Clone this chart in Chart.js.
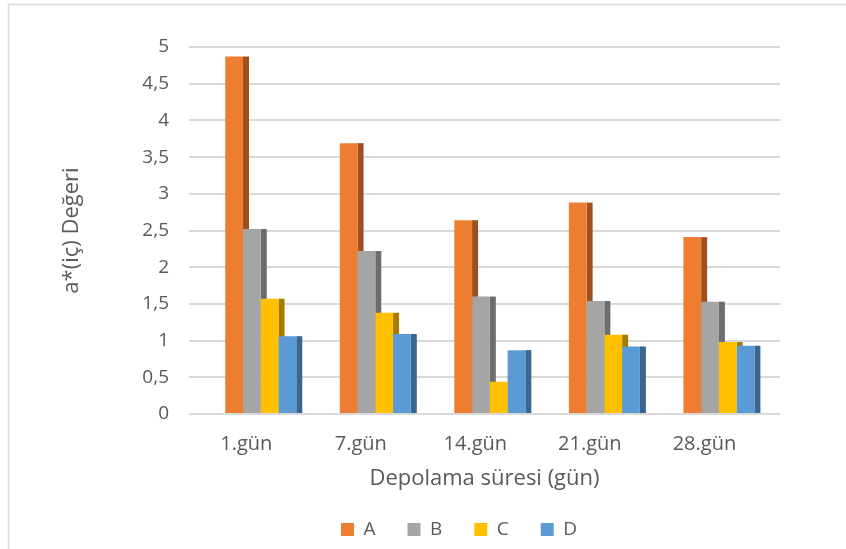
<!DOCTYPE html>
<html>
<head>
<meta charset="utf-8">
<script src="https://cdn.jsdelivr.net/npm/chart.js@4/dist/chart.umd.min.js"></script>
<style>
    html, body { margin: 0; padding: 0; background: #fff; }
    #wrap { width: 846px; height: 549px; }
</style>
</head>
<body>
<div id="wrap"><canvas id="a-canvas" width="846" height="549"></canvas></div>
<script>
const categories = ["1.gün", "7.gün", "14.gün", "21.gün", "28.gün"];
const seriesA = [4.87, 3.69, 2.64, 2.88, 2.41];
const seriesB = [2.52, 2.22, 1.6, 1.54, 1.53];
const seriesC = [1.57, 1.38, 0.44, 1.08, 0.98];
const seriesD = [1.06, 1.09, 0.87, 0.92, 0.93];
const seriesNames = ["A", "B", "C", "D"];

const TEXT = "#595959";
const GRID = "#d9d9d9";
const DEPTH_SHIFT = 14.5; // 3d offset of the bars
const SIDE_W = 6;
const LEGEND_SHIFT = 64;

function toPoints(values) {
    return values.map((v, i) => ({ x: i, y: v }));
}

// fake 3d: dark side face to the right of every bar
const depthPlugin = {
    id: "depth",
    afterLayout(chart) {
        // legend sits right of the plot centre in the original
        chart.legend.left += LEGEND_SHIFT;
        chart.legend.right += LEGEND_SHIFT;
    },
    beforeDraw(chart) {
        const ctx = chart.ctx;
        ctx.save();
        ctx.strokeStyle = GRID;
        ctx.lineWidth = 1.5;
        ctx.beginPath();
        ctx.moveTo(8.5, 549);
        ctx.lineTo(8.5, 4.5);
        ctx.lineTo(846, 4.5);
        ctx.stroke();
        ctx.restore();
    },
    beforeDatasetsDraw(chart) {
        const ctx = chart.ctx;
        ctx.save();
        ctx.translate(DEPTH_SHIFT, 0);
        chart.data.datasets.forEach((ds, i) => {
            const meta = chart.getDatasetMeta(i);
            ctx.fillStyle = ds.sideColor;
            meta.data.forEach((bar) => {
                const p = bar.getProps(["x", "y", "base", "width"], true);
                ctx.fillRect(p.x + p.width / 2, p.y, SIDE_W, p.base - p.y);
            });
        });
    },
    afterDatasetsDraw(chart) {
        chart.ctx.restore();
    },
};

const data = {
    datasets: [
        { label: seriesNames[0], data: toPoints(seriesA), backgroundColor: "#ed7d31", sideColor: "#9e501f" },
        { label: seriesNames[1], data: toPoints(seriesB), backgroundColor: "#a5a5a5", sideColor: "#6d6d6d" },
        { label: seriesNames[2], data: toPoints(seriesC), backgroundColor: "#ffc000", sideColor: "#a67c00" },
        { label: seriesNames[3], data: toPoints(seriesD), backgroundColor: "#5b9bd5", sideColor: "#3b6690" },
    ],
};

const config = {
    type: "bar",
    data: data,
    plugins: [depthPlugin],
    options: {
        responsive: false,
        animation: false,
        layout: { padding: { left: 10, right: 66, top: 47, bottom: 0 } },
        datasets: {
            bar: { categoryPercentage: 0.62, barPercentage: 1, borderWidth: 0 },
        },
        scales: {
            x: {
                type: "linear",
                offset: false,
                min: -0.5,
                max: 4.66,
                grid: { display: false },
                border: { display: false },
                afterBuildTicks: (scale) => {
                    scale.ticks = categories.map((_, i) => ({ value: i }));
                },
                afterFit: (scale) => {
                    scale.height = 74;
                },
                ticks: {
                    autoSkip: false,
                    maxRotation: 0,
                    padding: 10,
                    color: TEXT,
                    font: { family: "Open Sans", size: 20 },
                    callback: (v) => categories[v] ?? "",
                },
                title: {
                    display: true,
                    text: "Depolama süresi (gün)",
                    color: TEXT,
                    padding: { top: 0, bottom: -4 },
                    font: { family: "Open Sans", size: 22 },
                },
            },
            y: {
                min: 0,
                max: 5,
                grid: { color: GRID, lineWidth: 2, drawTicks: false },
                border: { display: false },
                afterFit: (scale) => {
                    scale.width = 179;
                },
                ticks: {
                    stepSize: 0.5,
                    padding: 20,
                    color: TEXT,
                    font: { family: "Open Sans", size: 19 },
                    callback: (v) => String(v).replace(".", ","),
                },
                title: {
                    display: true,
                    text: "a*(iç) Değeri",
                    color: TEXT,
                    padding: 49,
                    font: { family: "Open Sans", size: 22 },
                },
            },
        },
        plugins: {
            legend: {
                position: "bottom",
                labels: {
                    boxWidth: 13,
                    boxHeight: 13,
                    padding: 32,
                    color: TEXT,
                    font: { family: "Open Sans", size: 19 },
                },
            },
            tooltip: { enabled: false },
        },
    },
};

new Chart(document.querySelector("#a-canvas"), config);
</script>
</body>
</html>
